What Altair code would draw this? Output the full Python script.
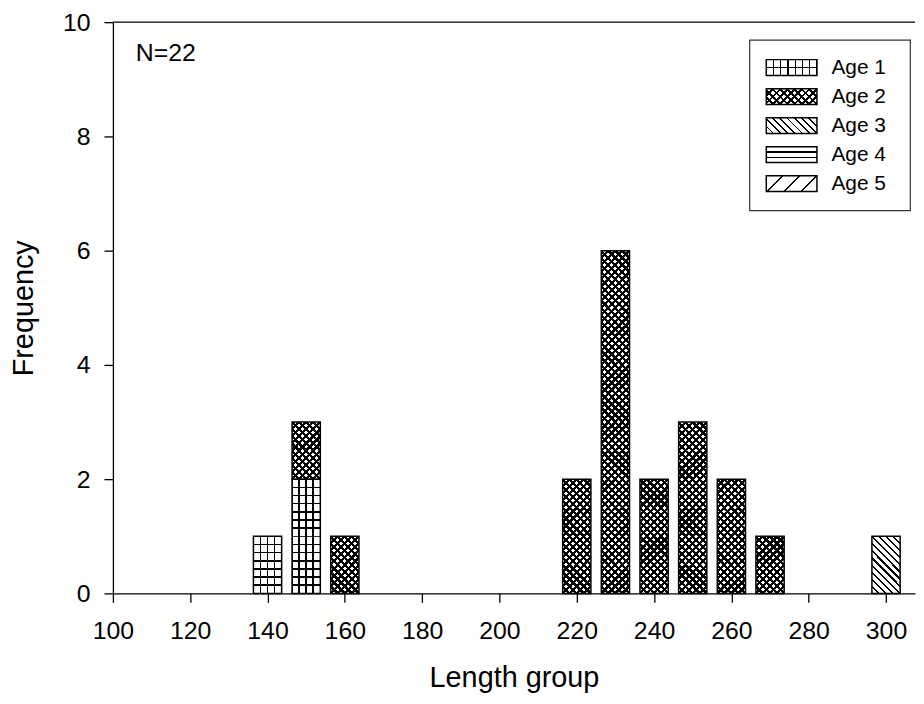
import math
import altair as alt
import pandas as pd

# ---------------- data ----------------
lengths = [140, 150, 160, 220, 230, 240, 250, 260, 270, 300]
age1 = [1, 2, 0, 0, 0, 0, 0, 0, 0, 0]
age2 = [0, 1, 1, 2, 6, 2, 3, 2, 1, 0]
age3 = [0, 0, 0, 0, 0, 0, 0, 0, 0, 1]
age4 = [0, 0, 0, 0, 0, 0, 0, 0, 0, 0]
age5 = [0, 0, 0, 0, 0, 0, 0, 0, 0, 0]
ages = ["Age 1", "Age 2", "Age 3", "Age 4", "Age 5"]
series = [age1, age2, age3, age4, age5]
x_ticks = [100, 120, 140, 160, 180, 200, 220, 240, 260, 280, 300]
y_ticks = [0, 2, 4, 6, 8, 10]
x_title = "Length group"
y_title = "Frequency"
n_label = "N=%d" % sum(sum(s) for s in series)

# ---------------- layout ----------------
FONT = "Liberation Sans"
X_DOMAIN = [100, 307.5]
Y_DOMAIN = [0, 10]
TOTAL_W, TOTAL_H = 914, 687          # whole chart (autosize fit)
W_EST, H_EST = 808, 574              # expected plot area, for hatch geometry
PX_X = W_EST / (X_DOMAIN[1] - X_DOMAIN[0])
PX_Y = H_EST / (Y_DOMAIN[1] - Y_DOMAIN[0])
BAR_HALF = 3.65  # half bar width in x units
BAR_W_PX = 2 * BAR_HALF * PX_X
DY = 2.3  # vertical offset of in-plot decorations

T = "rgba(255,255,255,0)"


def hatch(w, h, nx, ny, spacing, thick, color="#000000"):
    """Striped linear gradient (bbox units) giving lines with normal (nx, ny)
    in pixel space, for a box of w x h pixels."""
    L = math.hypot(nx, ny)
    nx, ny = nx / L, ny / L
    corners = [(0, 0), (1, 0), (0, 1), (1, 1)]
    vals = [nx * w * qx + ny * h * qy for qx, qy in corners]
    i0 = min(range(4), key=lambda i: vals[i])
    smin = vals[i0]
    S = max(vals) - smin
    qx0, qy0 = corners[i0]
    ux, uy = nx * w, ny * h
    a = S / (ux * ux + uy * uy)
    x2 = qx0 + a * ux
    y2 = qy0 + a * uy
    bands = []
    k = 0
    while k * spacing - thick / 2 <= S + 1e-9:
        c = k * spacing
        lo = max(0.0, c - thick / 2) / S
        hi = min(S, c + thick / 2) / S
        if hi > lo:
            bands.append((lo, hi))
        k += 1
    stops = []

    def add(o, col):
        stops.append({"offset": round(min(max(o, 0), 1), 5), "color": col})

    if not bands or bands[0][0] > 0:
        add(0, T)
    for lo, hi in bands:
        if lo > 0:
            add(lo, T)
        add(lo, color)
        add(hi, color)
        if hi < 1:
            add(hi, T)
    if bands and bands[-1][1] < 1:
        add(1, T)
    return {"gradient": "linear", "x1": qx0, "y1": qy0,
            "x2": round(x2, 5), "y2": round(y2, 5), "stops": stops}


R2 = math.sqrt(2)
# pattern definitions: cell step (y units) and line sets (nx, ny, spacing px, thickness px)
bar_patterns = {
    "Age 1": (1.0, [(1, 0, BAR_W_PX / 4, 1.5), (0, 1, PX_Y / 7, 1.5)]),
    "Age 2": (0.5, [(1, 1, BAR_W_PX / 4 / R2, 2.3), (1, -1, BAR_W_PX / 4 / R2, 2.3)]),
    "Age 3": (0.5, [(1, -1, BAR_W_PX / 4 / R2, 1.7)]),
    "Age 4": (0.5, [(0, 1, PX_Y / 6, 1.4)]),
    "Age 5": (0.5, [(1, 1, BAR_W_PX / 2 / R2, 1.4)]),
}

# stacked segments
segs = []
for i, L in enumerate(lengths):
    base = 0
    for age, s in zip(ages, series):
        c = s[i]
        if c > 0:
            segs.append({"length": L, "age": age, "count": c,
                         "x0": L - BAR_HALF, "x1": L + BAR_HALF,
                         "y0": base, "y1": base + c})
            base += c
seg_df = pd.DataFrame(segs)

# cells for hatch fills
cells = []
for s in segs:
    step = bar_patterns[s["age"]][0]
    n = int(round(s["count"] / step))
    for k in range(n):
        cells.append({"age": s["age"], "x0": s["x0"], "x1": s["x1"],
                      "y0": s["y0"] + k * step, "y1": s["y0"] + (k + 1) * step})
cell_df = pd.DataFrame(cells)

xs = alt.Scale(domain=X_DOMAIN, nice=False, zero=False)
ys = alt.Scale(domain=Y_DOMAIN, nice=False)

axis_common = dict(grid=False, tickSize=9, labelFontSize=25, titleFontSize=29,
                   titleFontWeight="normal", domainColor="black", tickColor="black",
                   labelColor="black", titleColor="black", domainWidth=1.3,
                   tickWidth=1.3, labelFont=FONT, titleFont=FONT)
x_axis = alt.Axis(values=x_ticks, title=x_title, labelPadding=16, titlePadding=21,
                  labelFlush=False, **axis_common)
y_axis = alt.Axis(values=y_ticks, title=y_title, labelPadding=14, titlePadding=24,
                  **axis_common)


def X(f):
    return alt.X(f, type="quantitative", scale=xs, axis=x_axis)


def Y(f):
    return alt.Y(f, type="quantitative", scale=ys, axis=y_axis)


main_layers = []
for age in ages:
    sub = cell_df[cell_df["age"] == age] if len(cell_df) else cell_df
    if len(sub) == 0:
        continue
    step, lines = bar_patterns[age]
    for (nx, ny, sp, th) in lines:
        grad = hatch(BAR_W_PX, step * PX_Y, nx, ny, sp, th)
        main_layers.append(
            alt.Chart(sub).mark_rect(fill=grad, strokeWidth=0).encode(
                x=X("x0"), x2="x1", y=Y("y0"), y2="y1"))

outline = alt.Chart(seg_df).mark_rect(fill="transparent", stroke="black",
                                      strokeWidth=1.5).encode(
    x=X("x0"), x2="x1", y=Y("y0"), y2="y1")
top_rule = alt.Chart(pd.DataFrame({"top": [Y_DOMAIN[1]]})).mark_rule(
    color="black", strokeWidth=1.3).encode(y=Y("top"))
n_text = alt.Chart(pd.DataFrame({"label": [n_label]})).mark_text(
    align="left", baseline="middle", fontSize=25, font=FONT, color="black").encode(
    x=alt.value(23), y=alt.value(29 + DY), text="label:N")

main = alt.layer(*main_layers, outline, top_rule, n_text)

# ---------------- legend ----------------
LEG_W, LEG_H = 51, 16
LEG_TOP, LEG_BOTTOM = 43.4 + DY, 160.2 + DY
ROW_PX = (LEG_BOTTOM - LEG_TOP) / (len(ages) - 1)
half = (LEG_H / 2) / ROW_PX
leg_df = pd.DataFrame({"age": ages, "row": list(range(len(ages)))})
leg_df["y0"] = leg_df["row"] - half
leg_df["y1"] = leg_df["row"] + half
lx = alt.Scale(domain=[0, 1], range=[657.7, 708.7])
ly = alt.Scale(domain=[0, len(ages) - 1], range=[LEG_TOP, LEG_BOTTOM])

leg_patterns = {
    "Age 1": [(1, 0, LEG_W / 7, 1.3), (0, 1, LEG_H / 2, 1.3)],
    "Age 2": [(1, 1, 7.3 / R2, 2.0), (1, -1, 7.3 / R2, 2.0)],
    "Age 3": [(1, -1, 7.3 / R2, 1.4)],
    "Age 4": [(0, 1, LEG_H / 3, 1.3)],
    "Age 5": [(1, 1, 17 / R2, 1.3)],
}

leg_box = alt.Chart(pd.DataFrame({"b": [0]})).mark_rect(
    fill="white", stroke="#333333", strokeWidth=1.2).encode(
    x=alt.value(641), x2=alt.value(802.7), y=alt.value(15.7 + DY), y2=alt.value(187.4 + DY))
leg_layers = [leg_box]
for age in ages:
    for (nx, ny, sp, th) in leg_patterns[age]:
        grad = hatch(LEG_W, LEG_H, nx, ny, sp, th)
        leg_layers.append(
            alt.Chart(leg_df[leg_df["age"] == age]).mark_rect(fill=grad, strokeWidth=0).encode(
                x=alt.X(datum=0, type="quantitative", scale=lx, axis=None),
                x2=alt.X2(datum=1),
                y=alt.Y("y0:Q", scale=ly, axis=None), y2="y1:Q"))
leg_outline = alt.Chart(leg_df).mark_rect(fill="transparent", stroke="black", strokeWidth=1.5).encode(
    x=alt.X(datum=0, type="quantitative", scale=lx, axis=None),
    x2=alt.X2(datum=1),
    y=alt.Y("y0:Q", scale=ly, axis=None), y2="y1:Q")
leg_text = alt.Chart(leg_df).mark_text(align="left", baseline="middle", fontSize=21,
                                       font=FONT, color="black", dx=14.6).encode(
    x=alt.X(datum=1, type="quantitative", scale=lx, axis=None),
    y=alt.Y("row:Q", scale=ly, axis=None), text="age:N")
legend = alt.layer(*leg_layers, leg_outline, leg_text)

chart = alt.layer(main, legend).resolve_scale(
    x="independent", y="independent"
).properties(
    width=TOTAL_W, height=TOTAL_H,
    autosize=alt.AutoSizeParams(type="fit", contains="padding"),
    padding={"left": 1.6, "top": 0, "right": 0, "bottom": 0},
    background="white",
).configure_view(stroke=None)

chart.save("out.html", embed_options={"renderer": "svg", "actions": False})
